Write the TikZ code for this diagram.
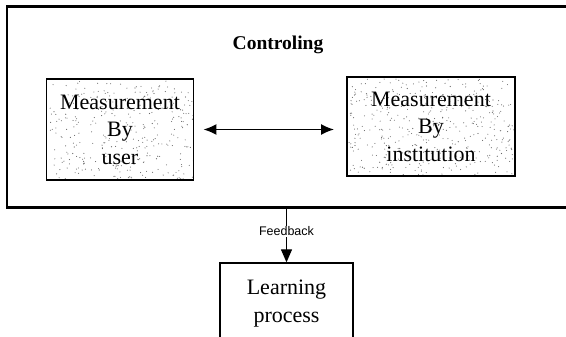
\documentclass[tikz,border=0pt]{standalone}
\usepackage{fontspec}
\setmainfont{Liberation Serif}
\newfontfamily\fbfont{Liberation Sans}
\usetikzlibrary{arrows.meta}

\tikzset{
  frame/.style={draw, line width=2.1pt, inner sep=0pt},
  mbox/.style={draw, line width=1.9pt, align=center, inner sep=0pt,
    font=\fontsize{22}{27.5}\selectfont},
  lbox/.style={draw, line width=1.3pt, align=center, inner sep=0pt,
    font=\fontsize{22}{28}\selectfont},
  title/.style={font=\fontsize{19.5}{23}\selectfont\bfseries},
  fblabel/.style={fill=white, inner sep=1pt, font=\fontsize{12.5}{14}\selectfont\fbfont},
  twoway/.style={line width=1.5pt, {Latex[width=11pt,length=13pt]}-{Latex[width=11pt,length=13pt]}},
  down/.style={line width=1.2pt, -{Triangle[width=11pt,length=13pt]}},
  speck/.style={fill=black!60}
}

\begin{document}
\begin{tikzpicture}[x=1pt, y=-1pt]
  \useasboundingbox (0,0) rectangle (566,337);
  \clip (0,0) rectangle (566,337);

  % stippled fill of the two measurement boxes
  \pgfmathsetseed{4217}
  \foreach \i in {1,...,330}{
    \pgfmathsetmacro{\px}{50+rnd*144}
    \pgfmathsetmacro{\py}{81+rnd*98}
    \fill[speck] (\px,\py) circle[radius=0.55pt];
  }
  \foreach \i in {1,...,420}{
    \pgfmathsetmacro{\px}{349+rnd*165}
    \pgfmathsetmacro{\py}{79+rnd*96}
    \fill[speck] (\px,\py) circle[radius=0.55pt];
  }

  % outer "Controling" frame (runs past the right edge)
  \node[frame, minimum width=574pt, minimum height=201pt] (ctrl) at (294,107) {};
  \node[title] (ttl) at (278,45) {Controling};

  % the two measurement boxes
  \node[mbox, minimum width=147pt, minimum height=101pt] (user) at (120,129.5)
    {Measurement\\By\\user};
  \node[mbox, minimum width=168pt, minimum height=99pt] (inst) at (431,126.5)
    {Measurement\\By\\institution};
  \draw[twoway, shorten <=9pt, shorten >=12pt] (user.east) -- (user.east -| inst.west);

  % learning process box (runs past the bottom edge)
  \node[lbox, minimum width=133pt, minimum height=82pt] (learn) at (286.5,304)
    {Learning\\process};
  \draw[down] (ctrl.south -| learn.north) -- node[fblabel, pos=0.42] (fb) {Feedback} (learn.north);
\end{tikzpicture}
\end{document}
